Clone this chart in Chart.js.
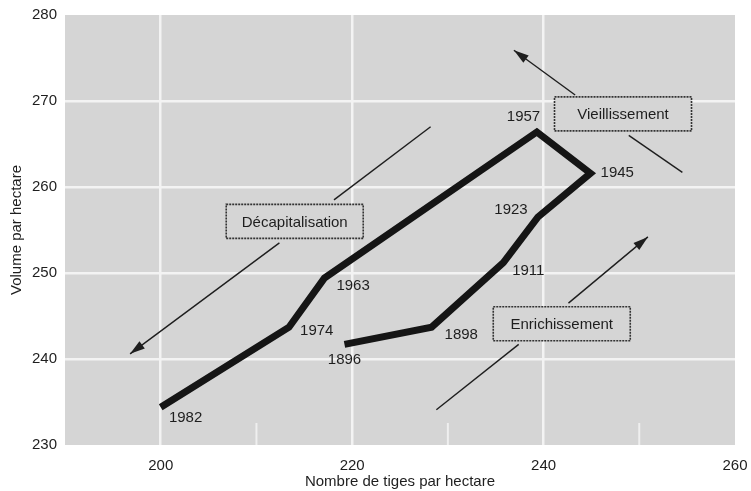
<!DOCTYPE html>
<html>
<head>
<meta charset="utf-8">
<script src="https://cdn.jsdelivr.net/npm/chart.js@4/dist/chart.umd.min.js"></script>
<style>
  html, body { margin: 0; padding: 0; background: #fff; }
  #wrap { width: 751px; height: 491px; }
</style>
</head>
<body>
<div id="wrap"><canvas id="chart"></canvas></div>
<script>
// path of the stand, in chronological order
const years = ["1896", "1898", "1911", "1923", "1945", "1957", "1963", "1974", "1982"];
const stems = [219.2, 228.3, 235.8, 239.4, 244.9, 239.3, 217.1, 213.4, 200.0];
const volumes = [241.7, 243.7, 251.2, 256.5, 261.6, 266.4, 249.4, 243.7, 234.4];

// where each year label sits (data units)
const yearLabelX = [219.2, 231.4, 238.4, 236.6, 247.7, 237.9, 220.1, 216.3, 202.6];
const yearLabelY = [239.9, 242.8, 250.3, 257.3, 261.6, 268.1, 248.5, 243.3, 233.1];

const xTicks = [200, 220, 240, 260];
const yTicks = [230, 240, 250, 260, 270, 280];
const minorX = [210, 230, 250];

// boxed annotations
const boxTexts = ["Décapitalisation", "Vieillissement", "Enrichissement"];
const boxX = [214.0, 248.3, 241.9];
const boxY = [256.0, 268.5, 244.1];

// arrow segments (head drawn at the "to" end when arrowHead is true)
const arrowFromX = [228.2, 212.4, 243.3, 248.9, 242.6, 237.4];
const arrowFromY = [267.0, 253.5, 270.7, 266.0, 246.5, 241.7];
const arrowToX = [218.1, 196.8, 236.9, 254.5, 250.9, 228.8];
const arrowToY = [258.5, 240.6, 275.9, 261.7, 254.2, 234.1];
const arrowHead = [false, true, true, false, true, false];

const FONT = "'Liberation Sans', Arial, Helvetica, sans-serif";
const INK = "#1e1e1e";
const PANEL = "#d5d5d5";

const panelPlugin = {
  id: "panel",
  beforeDraw(chart) {
    const { ctx, chartArea: a } = chart;
    ctx.save();
    ctx.fillStyle = PANEL;
    ctx.fillRect(a.left, a.top, a.right - a.left, a.bottom - a.top);
    ctx.restore();
  },
  beforeDatasetsDraw(chart) {
    // short faint marks at the minor x positions
    const { ctx, chartArea: a, scales } = chart;
    ctx.save();
    ctx.strokeStyle = "rgba(245,245,245,0.8)";
    ctx.lineWidth = 2;
    minorX.forEach((v) => {
      const px = scales.x.getPixelForValue(v);
      ctx.beginPath();
      ctx.moveTo(px, a.bottom);
      ctx.lineTo(px, a.bottom - 22);
      ctx.stroke();
    });
    ctx.restore();
  },
};

const notesPlugin = {
  id: "notes",
  afterDatasetsDraw(chart) {
    const { ctx, scales } = chart;
    const sx = (v) => scales.x.getPixelForValue(v);
    const sy = (v) => scales.y.getPixelForValue(v);
    ctx.save();

    // arrows
    ctx.strokeStyle = INK;
    ctx.fillStyle = INK;
    ctx.lineWidth = 1.4;
    arrowFromX.forEach((_, i) => {
      const x0 = sx(arrowFromX[i]), y0 = sy(arrowFromY[i]);
      const x1 = sx(arrowToX[i]), y1 = sy(arrowToY[i]);
      ctx.beginPath();
      ctx.moveTo(x0, y0);
      ctx.lineTo(x1, y1);
      ctx.stroke();
      if (arrowHead[i]) {
        const ang = Math.atan2(y1 - y0, x1 - x0);
        const len = 15, half = 4.5;
        const bx = x1 - Math.cos(ang) * len, by = y1 - Math.sin(ang) * len;
        ctx.beginPath();
        ctx.moveTo(x1, y1);
        ctx.lineTo(bx - Math.sin(ang) * half, by + Math.cos(ang) * half);
        ctx.lineTo(bx + Math.sin(ang) * half, by - Math.cos(ang) * half);
        ctx.closePath();
        ctx.fill();
      }
    });

    // boxes
    ctx.font = `15px ${FONT}`;
    ctx.textAlign = "center";
    ctx.textBaseline = "middle";
    boxTexts.forEach((t, i) => {
      const cx = sx(boxX[i]), cy = sy(boxY[i]);
      const w = 137, h = 34;
      ctx.fillStyle = PANEL;
      ctx.fillRect(cx - w / 2, cy - h / 2, w, h);
      ctx.setLineDash([2, 1]);
      ctx.lineWidth = 1.6;
      ctx.strokeStyle = "#333";
      ctx.strokeRect(cx - w / 2, cy - h / 2, w, h);
      ctx.setLineDash([]);
      ctx.fillStyle = INK;
      ctx.fillText(t, cx, cy + 1);
    });

    // year labels
    years.forEach((y, i) => {
      ctx.fillText(y, sx(yearLabelX[i]), sy(yearLabelY[i]));
    });
    ctx.restore();
  },
};

const gridColor = (edges) => (c) =>
  c.tick && edges.includes(c.tick.value) ? "rgba(0,0,0,0)" : "#f3f3f3";

new Chart(document.getElementById("chart"), {
  type: "scatter",
  data: {
    datasets: [
      {
        data: stems.map((x, i) => ({ x, y: volumes[i] })),
        showLine: true,
        borderColor: "#151515",
        borderWidth: 7,
        borderJoinStyle: "miter",
        borderCapStyle: "butt",
        pointRadius: 0,
        tension: 0,
      },
    ],
  },
  options: {
    responsive: true,
    maintainAspectRatio: false,
    animation: false,
    layout: { padding: { top: 15, right: 16, left: 0, bottom: 0 } },
    plugins: {
      legend: { display: false },
      tooltip: { enabled: false },
    },
    scales: {
      x: {
        type: "linear",
        min: 190,
        max: 260,
        afterBuildTicks: (s) => { s.ticks = xTicks.map((value) => ({ value })); },
        afterFit: (s) => {
          s.height = 46;
          s.paddingLeft = 0;
          s.paddingRight = 0;
        },
        border: { display: false },
        grid: { color: gridColor([260]), lineWidth: 2.5, drawTicks: false },
        ticks: { color: INK, padding: 12, maxRotation: 0, font: { family: FONT, size: 15 } },
        title: {
          display: true,
          text: "Nombre de tiges par hectare",
          color: INK,
          padding: { top: 0, bottom: 0 },
          font: { family: FONT, size: 15 },
        },
      },
      y: {
        type: "linear",
        min: 230,
        max: 280,
        afterBuildTicks: (s) => { s.ticks = yTicks.map((value) => ({ value })); },
        afterFit: (s) => {
          s.width = 65;
          s.paddingTop = 0;
          s.paddingBottom = 0;
        },
        border: { display: false },
        grid: { color: gridColor([230, 280]), lineWidth: 2.5, drawTicks: false },
        ticks: { color: INK, padding: 8, font: { family: FONT, size: 15 } },
        title: {
          display: true,
          text: "Volume par hectare",
          color: INK,
          padding: { top: 8, bottom: 0 },
          font: { family: FONT, size: 15 },
        },
      },
    },
  },
  plugins: [panelPlugin, notesPlugin],
});
</script>
</body>
</html>
